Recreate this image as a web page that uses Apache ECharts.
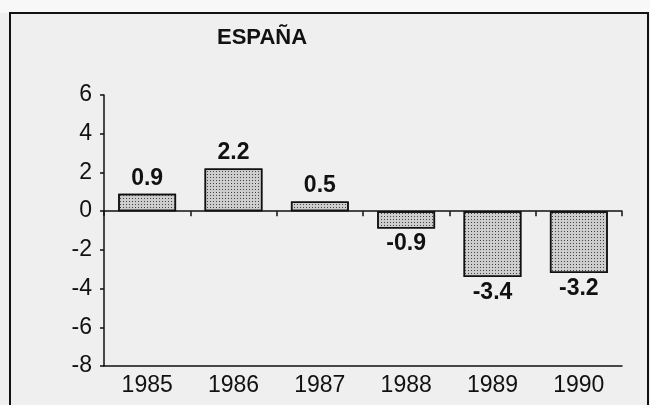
<!DOCTYPE html>
<html lang="es">
<head>
    <meta charset="UTF-8">
    <title>España</title>
    <style>
        html, body { margin: 0; padding: 0; background: #efefef; }
        #container { width: 650px; height: 405px; }
    </style>
</head>
<body>
<div id="container"></div>
<script src="https://cdn.jsdelivr.net/npm/echarts@6/dist/echarts.min.js"></script>
<script>
    // datos
    var years = ['1985', '1986', '1987', '1988', '1989', '1990'];
    var values = [0.9, 2.2, 0.5, -0.9, -3.4, -3.2];
    var yMin = -8, yMax = 6, yStep = 2;

    var font = '"Liberation Sans", Arial, Helvetica, sans-serif';
    var ink = '#111';

    var barData = values.map(function (v) {
        return {
            value: v,
            label: { position: v >= 0 ? 'top' : 'bottom' }
        };
    });

    var myChart = echarts.init(document.getElementById('container'));
    var option = {
        backgroundColor: '#efefef',
        animation: false,
        textStyle: { fontFamily: font },
        title: {
            text: 'ESPAÑA',
            left: 212,
            top: 22,
            textStyle: { fontSize: 22, fontWeight: 'bold', color: ink, fontFamily: font }
        },
        graphic: [
            { type: 'rect', z: -1, silent: true, shape: { x: 0, y: 0, width: 650, height: 13 }, style: { fill: '#f8f8f8' } },
            { type: 'rect', z: 100, silent: true, shape: { x: 10, y: 13, width: 638, height: 420 },
              style: { fill: 'none', stroke: ink, lineWidth: 2 } }
        ],
        grid: { left: 104, right: 28, top: 95, bottom: 39 },
        xAxis: [
            {
                type: 'category',
                data: years,
                position: 'bottom',
                axisLine: { onZero: false, lineStyle: { color: ink, width: 1.5 } },
                axisTick: { show: false },
                axisLabel: { fontSize: 23, color: ink, margin: 8, fontFamily: font }
            },
            {
                type: 'category',
                data: years,
                position: 'bottom',
                axisLine: { onZero: true, lineStyle: { color: ink, width: 1.5 } },
                axisTick: { show: true, length: 5, lineStyle: { color: ink, width: 1.5 } },
                axisLabel: { show: false }
            }
        ],
        yAxis: {
            type: 'value',
            min: yMin,
            max: yMax,
            interval: yStep,
            axisLine: { show: true, lineStyle: { color: ink, width: 1.5 } },
            axisTick: { show: true, length: 4, lineStyle: { color: ink, width: 1.5 } },
            splitLine: { show: false },
            axisLabel: { fontSize: 23, color: ink, margin: 12, fontFamily: font }
        },
        series: [{
            type: 'bar',
            xAxisIndex: 0,
            data: barData,
            barWidth: '67%',
            itemStyle: {
                color: '#cdcdcd',
                borderColor: ink,
                borderWidth: 1.5,
                decal: {
                    symbol: 'rect',
                    symbolSize: 1,
                    color: '#444',
                    dashArrayX: [1, 2],
                    dashArrayY: [1, 2],
                    rotation: 0
                }
            },
            label: {
                show: true,
                fontSize: 23,
                fontWeight: 'bold',
                color: ink,
                distance: 4,
                fontFamily: font
            }
        }]
    };
    myChart.setOption(option);
</script>
</body>
</html>
